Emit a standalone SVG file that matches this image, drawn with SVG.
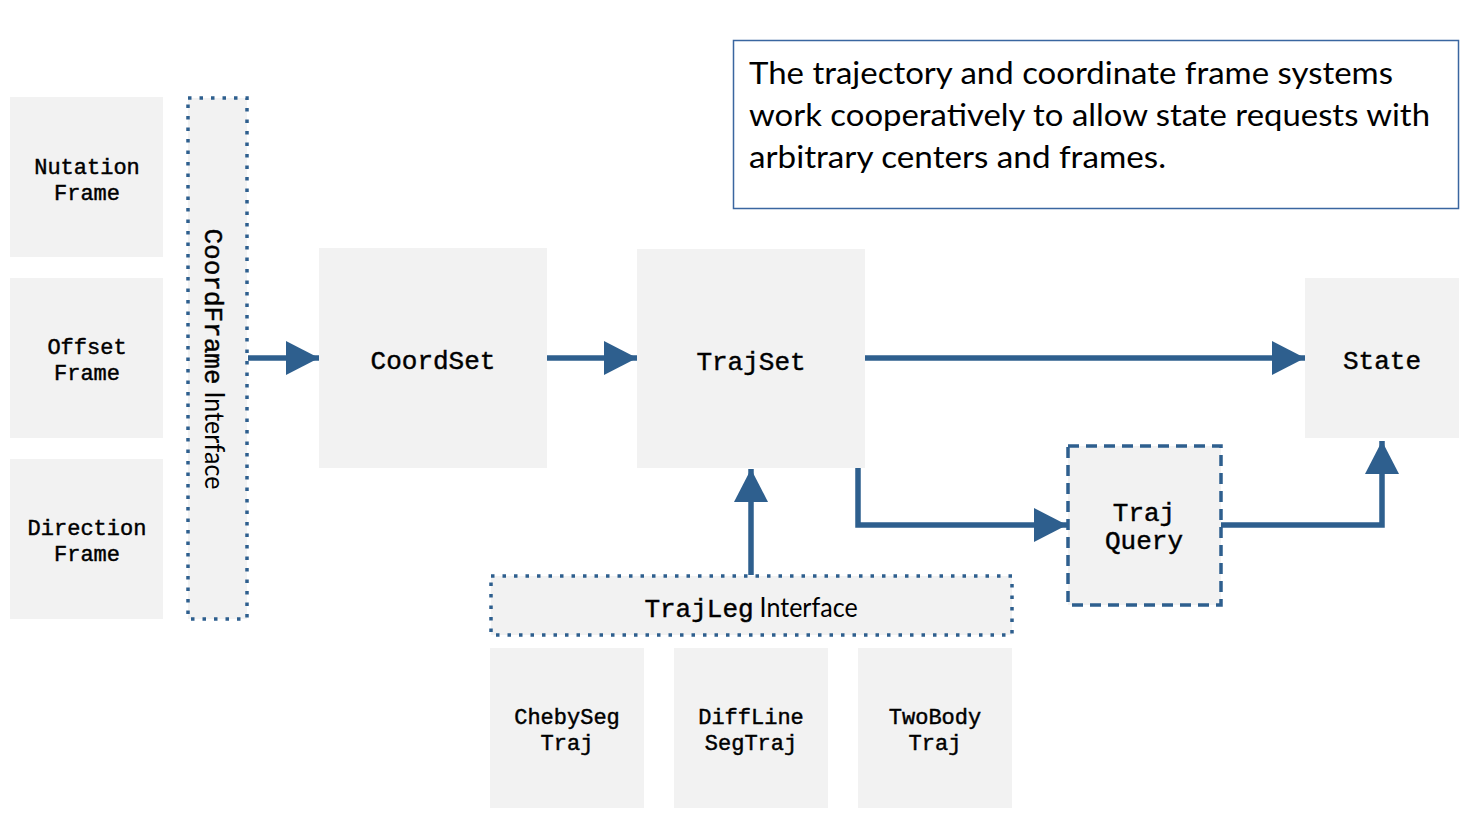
<svg xmlns="http://www.w3.org/2000/svg" width="1471" height="831" viewBox="0 0 1471 831">
<style>
.box{fill:#f2f2f2}
.dot{fill:#f2f2f2;stroke:#2e5f8e;stroke-width:3.5;stroke-dasharray:3.5 8}
.dash{fill:#f2f2f2;stroke:#2e5f8e;stroke-width:3.5;stroke-dasharray:11 7}
.m{font-family:"Liberation Mono","Courier New",monospace;fill:#000;stroke:#000;stroke-width:0.45;text-anchor:middle}
.s22{font-size:22px}
.s26{font-size:26px}
.sans{font-family:Lato,"Open Sans",sans-serif;stroke:none}
.edge{fill:none;stroke:#2e5f8e;stroke-width:5.5}
.note{font-family:Lato,"Open Sans",sans-serif;font-size:31px;fill:#000}
</style>
<defs>
<marker id="ah" markerUnits="userSpaceOnUse" markerWidth="34" markerHeight="34" refX="33" refY="17" orient="auto" viewBox="0 0 34 34">
<path d="M0,0 L33,17 L0,34 Z" fill="#2e5f8e"/>
</marker>
</defs>
<rect width="1471" height="831" fill="#fff"/>
<g id="note">
<rect x="733.5" y="40.5" width="725" height="168" fill="#fff" stroke="#3a66a0" stroke-width="1.5"/>
<text class="note" x="749" y="84" textLength="644" lengthAdjust="spacingAndGlyphs">The trajectory and coordinate frame systems</text>
<text class="note" x="749" y="126" textLength="681" lengthAdjust="spacingAndGlyphs">work cooperatively to allow state requests with</text>
<text class="note" x="749" y="168" textLength="417" lengthAdjust="spacingAndGlyphs">arbitrary centers and frames.</text>
</g>
<g id="nutation-frame"><rect class="box" x="10" y="97" width="153" height="160"/><text class="m s22" x="87" y="174">Nutation</text><text class="m s22" x="87" y="200">Frame</text></g>
<g id="offset-frame"><rect class="box" x="10" y="278" width="153" height="160"/><text class="m s22" x="87" y="354">Offset</text><text class="m s22" x="87" y="380">Frame</text></g>
<g id="direction-frame"><rect class="box" x="10" y="459" width="153" height="160"/><text class="m s22" x="87" y="535">Direction</text><text class="m s22" x="87" y="561">Frame</text></g>
<g id="coordframe-interface"><rect class="dot" x="188" y="98" width="59" height="521"/>
<text class="m s26" transform="translate(205,359) rotate(90)" x="0" y="0">CoordFrame<tspan class="sans" dx="7" textLength="98" lengthAdjust="spacingAndGlyphs">Interface</tspan></text></g>
<g id="coordset"><rect class="box" x="319" y="248" width="228" height="220"/><text class="m s26" x="433" y="369">CoordSet</text></g>
<g id="trajset"><rect class="box" x="637" y="249" width="228" height="219"/><text class="m s26" x="751" y="370">TrajSet</text></g>
<g id="state"><rect class="box" x="1305" y="278" width="154" height="160"/><text class="m s26" x="1382" y="369">State</text></g>
<g id="traj-query"><rect class="dash" x="1068" y="446" width="153" height="159"/><text class="m s26" x="1144" y="521">Traj</text><text class="m s26" x="1144" y="549">Query</text></g>
<g id="trajleg-interface"><rect class="dot" x="491" y="576" width="521" height="59"/>
<text class="m s26" x="751" y="617">TrajLeg<tspan class="sans" dx="6" textLength="98" lengthAdjust="spacingAndGlyphs">Interface</tspan></text></g>
<g id="chebyseg-traj"><rect class="box" x="490" y="648" width="154" height="160"/><text class="m s22" x="567" y="724">ChebySeg</text><text class="m s22" x="567" y="750">Traj</text></g>
<g id="diffline-segtraj"><rect class="box" x="674" y="648" width="154" height="160"/><text class="m s22" x="751" y="724">DiffLine</text><text class="m s22" x="751" y="750">SegTraj</text></g>
<g id="twobody-traj"><rect class="box" x="858" y="648" width="154" height="160"/><text class="m s22" x="935" y="724">TwoBody</text><text class="m s22" x="935" y="750">Traj</text></g>
<g id="connectors">
<path class="edge" d="M248,358 L319,358" marker-end="url(#ah)"/>
<path class="edge" d="M547,358 L637,358" marker-end="url(#ah)"/>
<path class="edge" d="M865,358 L1305,358" marker-end="url(#ah)"/>
<path class="edge" d="M858,468 L858,525 L1067,525" marker-end="url(#ah)"/>
<path class="edge" d="M1221,525 L1382,525 L1382,441" marker-end="url(#ah)"/>
<path class="edge" d="M751,575 L751,469" marker-end="url(#ah)"/>
</g>
</svg>
